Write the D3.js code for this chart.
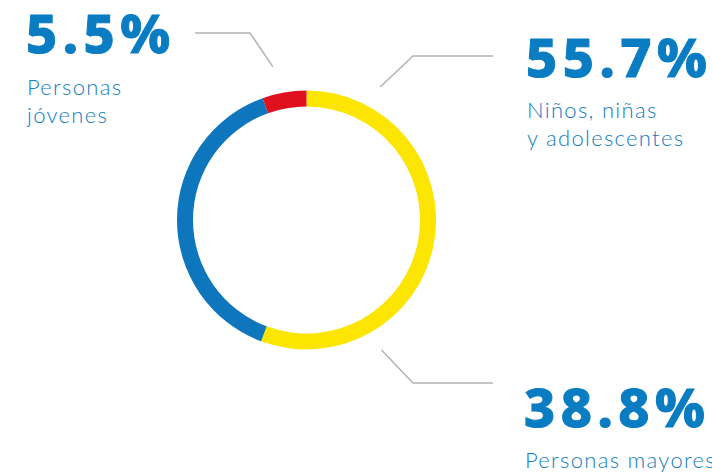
<!DOCTYPE html>
<html>
<head>
<meta charset="utf-8">
<script src="https://cdn.jsdelivr.net/npm/d3@7"></script>
<style>
  body { margin: 0; background: #fff; }
  svg { display: block; }
</style>
</head>
<body>
<div id="chart"></div>
<script>
// data
const groups = ["Niños, niñas y adolescentes", "Personas mayores", "Personas jóvenes"]
const shares = [55.7, 38.8, 5.5]
const colors = ["#fce500", "#0e76bc", "#e0101e"]

// label text, split in lines
const pctLabels = ["55.7%", "38.8%", "5.5%"]
const nameLines = [["Niños, niñas", "y adolescentes"], ["Personas mayores"], ["Personas", "jóvenes"]]

const width = 712, height = 472
const cx = 306.5, cy = 220
const outerR = 129.5, innerR = 113.5

const svg = d3.select("#chart")
    .append("svg")
    .attr("width", width)
    .attr("height", height)

const pie = d3.pie()
    .sort(null)
    .value(d => d)

const arc = d3.arc()
    .innerRadius(innerR)
    .outerRadius(outerR)

const arcs = pie(shares)

const ring = svg.append("g")
    .attr("transform", `translate(${cx}, ${cy})`)

ring.selectAll("path")
    .data(arcs)
    .join("path")
    .attr("d", arc)
    .attr("fill", (d, i) => colors[i])

// annotation layout (leader line angle in degrees from top, elbow and label spot)
const layout = [
    { angle: 29, r: 152, elbow: [413, 56], end: 493, tx: 526, ty: 77, lines: [118, 146] },
    { angle: 150, r: 150, elbow: [413, 383], end: 493, tx: 524, ty: 427, lines: [468] },
    { angle: -12.4, r: 157, elbow: [250, 33], end: 195, tx: 26, ty: 53, lines: [95, 123] }
]

const polar = (deg, r) => {
    const a = deg * Math.PI / 180
    return [cx + r * Math.sin(a), cy - r * Math.cos(a)]
}

const notes = svg.append("g")

layout.forEach((l, i) => {
    const start = polar(l.angle, l.r)
    notes.append("path")
        .attr("d", d3.line()([start, l.elbow, [l.end, l.elbow[1]]]))
        .attr("fill", "none")
        .attr("stroke", "#b3b3b3")
        .attr("stroke-width", 1.5)

    notes.append("text")
        .attr("x", l.tx)
        .attr("y", l.ty)
        .text(pctLabels[i])
        .attr("fill", "#0a7cc2")
        .attr("stroke", "#0a7cc2")
        .attr("stroke-width", 1)
        .style("font-family", "'Noto Sans', 'DejaVu Sans', sans-serif")
        .style("font-weight", 800)
        .style("font-size", "54px")
        .style("letter-spacing", "5.5px")

    nameLines[i].forEach((t, j) => {
        notes.append("text")
            .attr("x", l.tx + 1)
            .attr("y", l.lines[j])
            .text(t)
            .attr("fill", "#127cc0")
            .style("font-family", "Lato, 'Noto Sans', sans-serif")
            .style("font-weight", 300)
            .style("font-size", "22px")
            .style("letter-spacing", "1.3px")
    })
})
</script>
</body>
</html>
